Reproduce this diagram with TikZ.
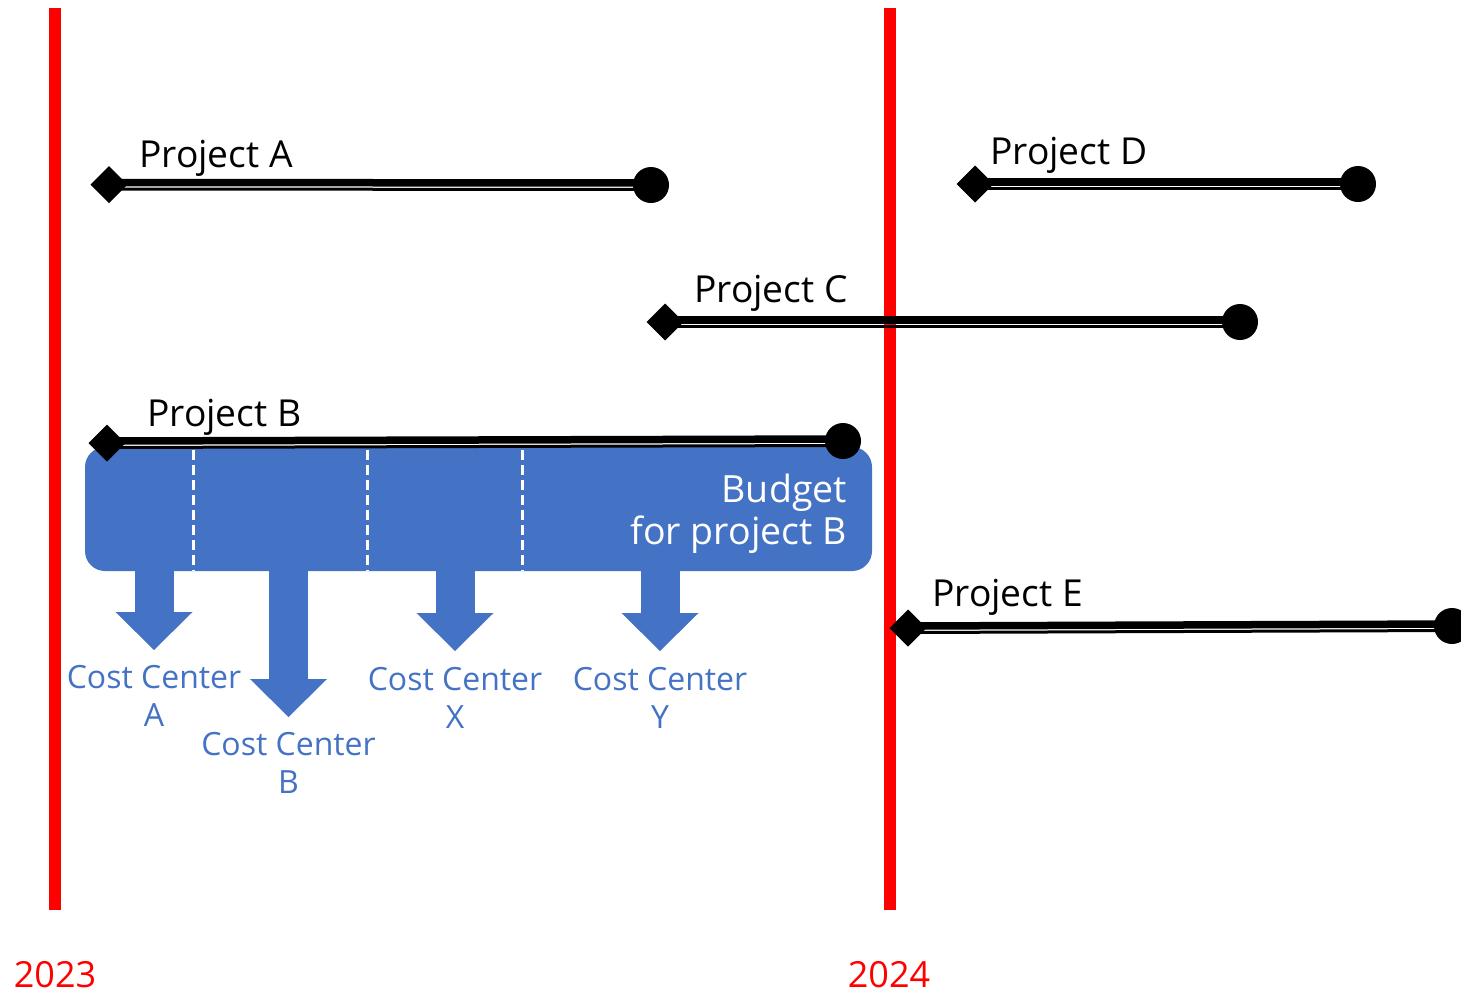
\documentclass[tikz,border=0pt]{standalone}
\usepackage{fontspec}
\setmainfont{Open Sans}
\usepackage{tikz}
\usetikzlibrary{shapes.geometric}
\usetikzlibrary{%
  arrows.meta,%
  calc,%
  positioning%
}
\definecolor{yearred}{RGB}{255,0,0}
\definecolor{budgetblue}{RGB}{68,114,196}
\pgfdeclarelayer{back}
\pgfdeclarelayer{bars}
\pgfsetlayers{back,bars,main}

\tikzset{
  yearline/.style={draw=yearred, line width=12pt},
  yearlabel/.style={anchor=base, inner sep=0pt, text=yearred, font=\fontsize{36}{43}\selectfont},
  projstart/.style={diamond, fill=black, inner sep=0pt, outer sep=0pt, minimum size=37pt},
  projend/.style={circle, fill=black, inner sep=0pt, minimum size=36pt},
  projlabel/.style={anchor=base west, inner sep=0pt, font=\fontsize{37.2}{44}\selectfont},
  barthick/.style={line width=7.5pt, transform canvas={yshift=2pt}},
  barthin/.style={line width=3pt, transform canvas={yshift=-4.5pt}},
  budgetbox/.style={fill=budgetblue, rounded corners=20pt, minimum width=787pt, minimum height=124pt, inner sep=0pt},
  budgettext/.style={text=white, align=right, inner sep=0pt, font=\fontsize{37.5}{42}\selectfont},
  split/.style={draw=white, line width=3pt, dash pattern=on 10pt off 5pt},
  cclabel/.style={anchor=north, text=budgetblue, align=center, inner sep=0pt, font=\fontsize{32}{38}\selectfont},
  flow/.style={draw=budgetblue, line width=39pt, -{Triangle[length=38pt, width=77pt, line width=0pt]}}
}

\begin{document}
\begin{tikzpicture}[x=1pt, y=-1pt]
\useasboundingbox (0,0) rectangle (1461,994);

% year marks
\begin{pgfonlayer}{back}
\draw[yearline] (55,8) -- (55,910);
\draw[yearline] (889.5,8) -- (889.5,910);
\end{pgfonlayer}
\node[yearlabel] (y2023) at (55,987) {2023};
\node[yearlabel] (y2024) at (889,987) {2024};

% projects
\node[projstart] (sA) at (109,184.5) {};
\node[projend] (eA) at (651,185) {};
\node[projlabel] (lA) at (139,167) {Project A};

\node[projstart] (sD) at (975,184) {};
\node[projend] (eD) at (1358,184) {};
\node[projlabel] (lD) at (990,164) {Project D};

\node[projstart] (sC) at (665,322) {};
\node[projend] (eC) at (1240,322) {};
\node[projlabel] (lC) at (694,302) {Project C};

\node[projstart] (sB) at (107,443) {};
\node[projend] (eB) at (843,441) {};
\node[projlabel] (lB) at (147,426) {Project B};

\node[projstart] (sE) at (908,628) {};
\node[projend] (eE) at (1452,626) {};
\node[projlabel] (lE) at (932,606) {Project E};

\begin{pgfonlayer}{bars}
\draw[barthick] (sA.center) -- (eA.center);
\draw[barthin] (sA.center) -- (eA.center);
\draw[barthick] (sD.center) -- (eD.center);
\draw[barthin] (sD.center) -- (eD.center);
\draw[barthick] (sC.center) -- (eC.center);
\draw[barthin] (sC.center) -- (eC.center);
\draw[barthick] (sB.center) -- (eB.center);
\draw[barthin] (sB.center) -- (eB.center);
\draw[barthick] (sE.center) -- (eE.center);
\draw[barthin] (sE.center) -- (eE.center);
\end{pgfonlayer}

% budget of project B and its cost centers
\node[cclabel] (ccA) at (154,665) {Cost Center\\A};
\node[cclabel] (ccB) at (288.5,732) {Cost Center\\B};
\node[cclabel] (ccX) at (455,667) {Cost Center\\X};
\node[cclabel] (ccY) at (660,667) {Cost Center\\Y};

\begin{pgfonlayer}{back}
\node[budgetbox] (box) at (478.5,509) {};
\draw[split] (193,450) -- (193,571);
\draw[split] (367,450) -- (367,571);
\draw[split] (522,450) -- (522,571);
\draw[flow] ($(box.south -| ccA)+(0,-8)$) -- ($(ccA.north)+(0,-15)$);
\draw[flow] ($(box.south -| ccB)+(0,-8)$) -- ($(ccB.north)+(0,-15)$);
\draw[flow] ($(box.south -| ccX)+(0,-8)$) -- ($(ccX.north)+(0,-16)$);
\draw[flow] ($(box.south -| ccY)+(0,-8)$) -- ($(ccY.north)+(0,-16)$);
\end{pgfonlayer}
\node[budgettext, anchor=north east] (btext) at (847,474) {Budget\\for project B};

\end{tikzpicture}
\end{document}
